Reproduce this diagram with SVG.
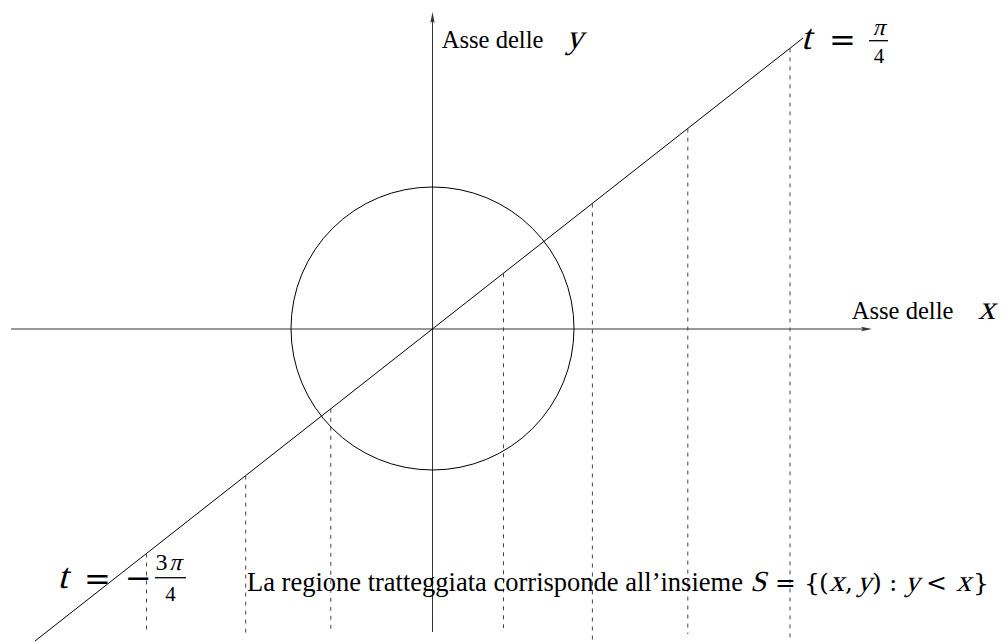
<svg xmlns="http://www.w3.org/2000/svg" width="1003" height="643" viewBox="0 0 1003 643">
<style>
.ax{stroke:#333;stroke-width:1;fill:none}
.cv{stroke:#000;stroke-width:1;fill:none}
.ds{stroke:#444;stroke-width:1;stroke-dasharray:4 5;fill:none}
.tx{font-family:"Liberation Serif","Times New Roman",serif;fill:#000}
.mr{font-family:"DejaVu Serif",serif;fill:#000}
.bar{stroke:#000;stroke-width:1.3}
</style>
<rect width="1003" height="643" fill="#fff"/>
<g id="connectors">
<line class="ax" x1="11" y1="329" x2="866" y2="329"/>
<path d="M872,329 L861,326.8 L863,329 L861,331.2 Z" fill="#333"/>
<line class="ax" x1="432.5" y1="632" x2="432.5" y2="18"/>
<path d="M432.5,12 L430.3,23 L432.5,21 L434.7,23 Z" fill="#333"/>
<line class="cv" x1="35" y1="641" x2="803" y2="38"/>
<line class="ds" x1="146.5" y1="553.5" x2="146.5" y2="633"/>
<line class="ds" x1="245.7" y1="475.6" x2="245.7" y2="637"/>
<line class="ds" x1="330.8" y1="408.8" x2="330.8" y2="633"/>
<line class="ds" x1="503.5" y1="273.3" x2="503.5" y2="628"/>
<line class="ds" x1="592.4" y1="203.5" x2="592.4" y2="643"/>
<line class="ds" x1="687.8" y1="128.6" x2="687.8" y2="634"/>
<line class="ds" x1="790" y1="48.4" x2="790" y2="641"/>
</g>
<g id="circle">
<circle class="cv" cx="432.5" cy="328.5" r="141.5"/>
</g>
<g id="label-y">
<text class="tx" x="441.7" y="48.3" font-size="24.6">Asse delle</text>
<text class="tx" transform="translate(566,48.3) skewX(-15)" font-size="34">y</text>
</g>
<g id="label-x">
<text class="tx" x="851.7" y="318.5" font-size="24.6">Asse delle</text>
<text class="tx" transform="translate(978,318.5) skewX(-15)" font-size="34">x</text>
</g>
<g id="label-t-top">
<text class="tx" transform="translate(801,49) skewX(-15)" font-size="36">t</text>
<text class="mr" x="829" y="51" font-size="32">=</text>
<text class="tx" transform="translate(878.5,35) skewX(-15)" font-size="24" text-anchor="middle">π</text>
<line class="bar" x1="869" y1="40.7" x2="888" y2="40.7"/>
<text class="tx" x="879" y="63" font-size="21" text-anchor="middle">4</text>
</g>
<g id="label-t-bottom">
<text class="tx" transform="translate(57.5,588) skewX(-15)" font-size="36">t</text>
<text class="mr" x="84" y="590" font-size="32">=</text>
<text class="mr" x="125" y="589" font-size="32">−</text>
<text class="tx" x="155.5" y="570" font-size="24">3</text>
<text class="tx" transform="translate(169,570) skewX(-15)" font-size="24">π</text>
<line class="bar" x1="155" y1="577.7" x2="186" y2="577.7"/>
<text class="tx" x="170.5" y="600.7" font-size="21" text-anchor="middle">4</text>
</g>
<g id="caption">
<text class="tx" x="247" y="591" font-size="26.5">La regione tratteggiata corrisponde all’insieme</text>
<text class="tx" transform="translate(750,591) skewX(-15)" font-size="29">S</text>
<text class="mr" x="775" y="591" font-size="25">=</text>
<text class="mr" x="804" y="591" font-size="25">{</text>
<text class="mr" x="819" y="591" font-size="25">(</text>
<text class="tx" transform="translate(829,591) skewX(-15)" font-size="30">x</text>
<text class="mr" x="845" y="591" font-size="25">,</text>
<text class="tx" transform="translate(857,591) skewX(-15)" font-size="29">y</text>
<text class="mr" x="872" y="591" font-size="25">)</text>
<text class="mr" x="889" y="591" font-size="25">:</text>
<text class="tx" transform="translate(905,591) skewX(-15)" font-size="29">y</text>
<text class="mr" x="926" y="591" font-size="25">&lt;</text>
<text class="tx" transform="translate(956,591) skewX(-15)" font-size="30">x</text>
<text class="mr" x="973" y="591" font-size="25">}</text>
</g>
</svg>
